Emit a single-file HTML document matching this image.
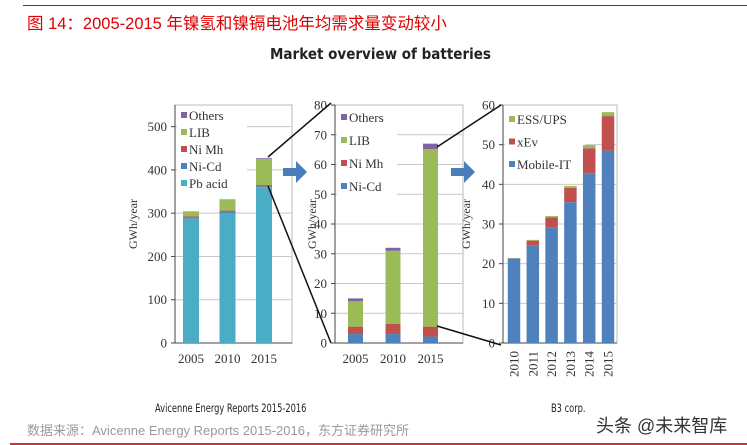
<!DOCTYPE html>
<html><head><meta charset="utf-8">
<style>
body{margin:0;background:#fff;width:747px;height:445px;overflow:hidden;position:relative;font-family:"Liberation Sans","Noto Sans CJK SC",sans-serif}
.t{position:absolute;white-space:nowrap}
svg{position:absolute;left:0;top:0}
</style></head><body>
<div style="position:absolute;left:23px;top:5px;width:724px;height:1px;background:#d00"></div>
<div class="t" style="left:27px;top:10px;font-size:16.5px;color:#e00000;">图 14：2005-2015 年镍氢和镍镉电池年均需求量变动较小</div>
<div class="t" style="left:270px;top:45px;font-size:15px;font-weight:bold;color:#222;font-family:'DejaVu Sans',sans-serif;transform:scaleX(0.9);transform-origin:0 0">Market overview of batteries</div>
<svg id="c" width="747" height="445"></svg>
<div class="t" style="left:155px;top:401px;font-size:11.5px;color:#222;font-family:'DejaVu Sans',sans-serif;transform:scaleX(0.72);transform-origin:0 0">Avicenne Energy Reports 2015-2016</div>
<div class="t" style="left:551px;top:401px;font-size:11.5px;color:#222;font-family:'DejaVu Sans',sans-serif;transform:scaleX(0.72);transform-origin:0 0">B3 corp.</div>
<div class="t" style="left:27px;top:420px;font-size:13px;color:#999">数据来源：Avicenne Energy Reports 2015-2016，东方证券研究所</div>
<div class="t" style="left:596px;top:412px;font-size:18px;color:#333">头条 @未来智库</div>
<div style="position:absolute;left:10px;top:443px;width:737px;height:1.5px;background:#c33"></div>
<script>
// Chart 1: all batteries
const c1Years=["2005","2010","2015"];
const c1Pb=[288,300,360];
const c1NiCd=[3,3,2];
const c1NiMh=[2,3,3];
const c1LIB=[10,25,60];
const c1Oth=[1,1,2];
const c1Ticks=[0,100,200,300,400,500];
// Chart 2: small batteries
const c2Years=["2005","2010","2015"];
const c2NiCd=[3,3,2.2];
const c2NiMh=[2.5,3.5,3.3];
const c2LIB=[8.5,24.5,59.7];
const c2Oth=[1,1,1.8];
const c2Ticks=[0,10,20,30,40,50,60,70,80];
// Chart 3: LIB by application
const c3Years=["2010","2011","2012","2013","2014","2015"];
const c3Mobile=[21.3,24.5,29.2,35.5,42.8,48.5];
const c3xEv=[0,1.3,2.5,3.6,6.3,8.7];
const c3ESS=[0.1,0.2,0.3,0.5,0.8,1];
const c3Ticks=[0,10,20,30,40,50,60];

const C={pb:"#4bacc6",nicd:"#4f81bd",nimh:"#c0504d",lib:"#9bbb59",oth:"#8064a2"};
const svg=document.getElementById('c');
const NS="http://www.w3.org/2000/svg";
function mk(tag,at,txt){const e=document.createElementNS(NS,tag);for(const k in at)e.setAttribute(k,at[k]);if(txt!=null)e.textContent=txt;svg.appendChild(e);return e;}
const SERIF="'Liberation Serif',serif";

function chart(o){
  const y=v=>o.y0-(v/o.max)*(o.y0-o.top);
  let f=mk('rect',{x:o.left,y:o.top,width:o.right-o.left,height:o.y0-o.top,fill:'none',stroke:'#bbb','stroke-width':1});
  
  
  o.ticks.forEach(t=>{
    if(t>0&&t<o.max){let g=mk('line',{x1:o.left,x2:o.right,y1:y(t),y2:y(t),stroke:'#c8c8c8','stroke-width':1});
    
    }
    let tk=mk('line',{x1:o.left-4,x2:o.left,y1:y(t),y2:y(t),stroke:'#444'});
    
    
    let l=mk('text',{x:o.left-8,y:y(t)+4.5,'text-anchor':'end','font-size':13,fill:'#333','font-family':SERIF},t);
    
    
  });
  let ax=mk('line',{x1:o.left,x2:o.left,y1:o.top,y2:o.y0,stroke:'#444'});
  
  
  let bx=mk('line',{x1:o.left,x2:o.right,y1:o.y0,y2:o.y0,stroke:'#444'});
  
  
  let yt=mk('text',{x:o.ytx,y:(o.top+o.y0)/2,'text-anchor':'middle','font-size':12,fill:'#333','font-family':SERIF,transform:`rotate(-90 ${o.ytx} ${(o.top+o.y0)/2})`},'GWh/year');
  
  
  let lb=mk('rect',{x:o.left+2,y:o.legY-9,width:o.legW,height:o.legend.length*o.legDy+4,fill:'#fff'});
  
  
  o.cats.forEach((c,i)=>{
    const cx=o.left+o.bx0+i*o.bstep;
    let acc=0;
    o.series.forEach(s=>{
      const v=s.vals[i];if(v<=0)return;
      let r=mk('rect',{x:cx-o.bw/2,y:y(acc+v),width:o.bw,height:y(acc)-y(acc+v),fill:s.col});
      
      
      acc+=v;
    });
    let xl;
    if(o.rot){xl=mk('text',{x:cx+4.5,y:o.y0+8,'text-anchor':'end','font-size':13,fill:'#333','font-family':SERIF,transform:`rotate(-90 ${cx+4.5} ${o.y0+8})`},c);}
    else xl=mk('text',{x:cx,y:o.y0+20,'text-anchor':'middle','font-size':13,fill:'#333','font-family':SERIF},c);
    
    
  });
  o.legend.forEach((s,i)=>{
    const ly=o.legY+i*o.legDy;
    let sw=mk('rect',{x:o.left+6,y:ly-4,width:6,height:6,fill:s.col});
    
    
    let t=mk('text',{x:o.left+14,y:ly+4,'font-size':13,fill:'#333','font-family':SERIF},s.label);
    
    
  });
}
chart({name:'chart1',left:175,right:292,top:105,y0:343,max:550,ticks:c1Ticks,cats:c1Years,bx0:16,bstep:36.5,bw:16,ytx:137,
  series:[{key:'pb',vals:c1Pb,col:C.pb},{key:'nicd',vals:c1NiCd,col:C.nicd},{key:'nimh',vals:c1NiMh,col:C.nimh},{key:'lib',vals:c1LIB,col:C.lib},{key:'oth',vals:c1Oth,col:C.oth}],
  legend:[{label:'Others',col:C.oth},{label:'LIB',col:C.lib},{label:'Ni Mh',col:C.nimh},{label:'Ni-Cd',col:C.nicd},{label:'Pb acid',col:C.pb}],legY:116,legDy:17,legW:70});
chart({name:'chart2',left:335,right:463,top:105,y0:343,max:80,ticks:c2Ticks,cats:c2Years,bx0:20.5,bstep:37.5,bw:15,ytx:316,
  series:[{key:'nicd',vals:c2NiCd,col:C.nicd},{key:'nimh',vals:c2NiMh,col:C.nimh},{key:'lib',vals:c2LIB,col:C.lib},{key:'oth',vals:c2Oth,col:C.oth}],
  legend:[{label:'Others',col:C.oth},{label:'LIB',col:C.lib},{label:'Ni Mh',col:C.nimh},{label:'Ni-Cd',col:C.nicd}],legY:118,legDy:23,legW:60});
chart({name:'chart3',left:503,right:617,top:105,y0:343,max:60,ticks:c3Ticks,cats:c3Years,bx0:11,bstep:18.8,bw:12.5,ytx:470,rot:true,
  series:[{key:'mobile',vals:c3Mobile,col:C.nicd},{key:'xev',vals:c3xEv,col:C.nimh},{key:'ess',vals:c3ESS,col:C.lib}],
  legend:[{label:'ESS/UPS',col:C.lib},{label:'xEv',col:C.nimh},{label:'Mobile-IT',col:C.nicd}],legY:120,legDy:22.5,legW:80});
[[268,157,331,103],[268,186,331,343],[437,147,501,105],[437,326,501,345]].forEach(p=>{
  let l=mk('line',{x1:p[0],y1:p[1],x2:p[2],y2:p[3],stroke:'#111','stroke-width':1.5});
  
  
});
[[283,172],[451,172]].forEach(p=>{
  const [x,y]=p;
  let a=mk('path',{d:`M${x} ${y-4}h13v-7l11 11l-11 11v-7h-13z`,fill:'#4a7ebb'});
  
  
});
</script>
</body></html>
